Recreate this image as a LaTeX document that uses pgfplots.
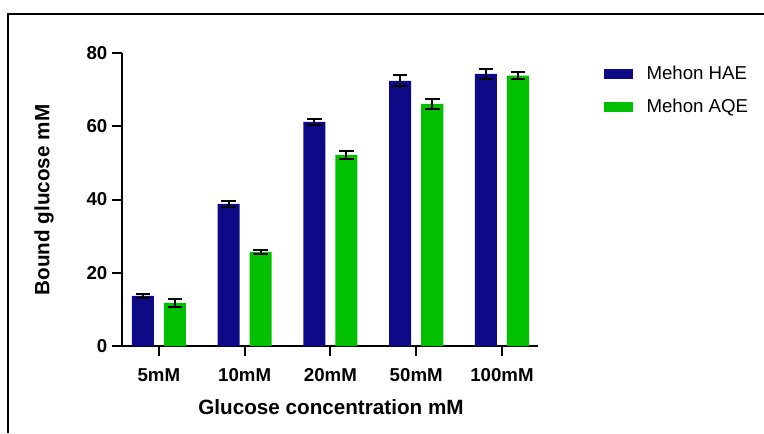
\documentclass[border=0pt]{standalone}
\usepackage{fontspec}
\setmainfont{Liberation Sans}
\usepackage{pgfplots}
\pgfplotsset{compat=1.18}
\definecolor{hae}{RGB}{14,10,135}
\definecolor{aqe}{RGB}{0,192,0}
\begin{document}
\begin{tikzpicture}[x=0.75pt,y=0.75pt]
\useasboundingbox (0,0) rectangle (764,433);
\draw[line width=1.5pt] (8,0) -- (8,419) -- (766,419);
\begin{axis}[
  at={(91.5pt,65.25pt)}, anchor=south west,
  scale only axis, width=312pt, height=219.75pt,
  xmin=-0.43, xmax=4.42, ymin=0, ymax=80,
  axis x line*=bottom, axis y line*=left,
  axis line style={line width=1.5pt, -},
  xtick={0,...,4}, xticklabels={5mM,10mM,20mM,50mM,100mM},
  ytick={0,20,...,80},
  tick align=outside, major tick length=7.5pt,
  tick style={line width=1.5pt, black},
  ticklabel style={font=\fontsize{14}{16}\selectfont\bfseries},
  xticklabel shift=6pt,
  /pgf/number format/assume math mode=true,
  ybar, bar width=0.257,
  legend style={at={(axis description cs:1.148,0.975)}, anchor=north west, draw=none, fill=none,
    font=\fontsize{14}{16}\selectfont, row sep=9.5pt,
    /tikz/every odd column/.append style={column sep=8pt}},
  legend cell align=left,
  legend image code/.code={\fill[#1] (0pt,-3.75pt) rectangle (22pt,3.75pt);},
  error bars/y dir=both, error bars/y explicit,
  error bars/error mark options={rotate=90, mark size=5.5pt, line width=1.5pt, black},
  error bars/error bar style={line width=1.5pt, black},
]
\addplot[fill=hae, draw=none, bar shift=-0.187] coordinates {
  (0,13.7) +- (0,0.6)
  (1,38.8) +- (0,0.9)
  (2,61.2) +- (0,0.9)
  (3,72.4) +- (0,1.5)
  (4,74.3) +- (0,1.4)
};
\addplot[fill=aqe, draw=none, bar shift=0.187] coordinates {
  (0,11.8) +- (0,1.1)
  (1,25.7) +- (0,0.5)
  (2,52.2) +- (0,1.1)
  (3,66.1) +- (0,1.3)
  (4,73.8) +- (0,0.9)
};
\legend{Mehon HAE, Mehon AQE}
\end{axis}
\node[rotate=90, font=\fontsize{15.5}{18}\selectfont\bfseries] at (44,233) {Bound glucose mM};
\node[font=\fontsize{15.5}{18}\selectfont\bfseries] at (331,26) {Glucose concentration mM};
\end{tikzpicture}
\end{document}
